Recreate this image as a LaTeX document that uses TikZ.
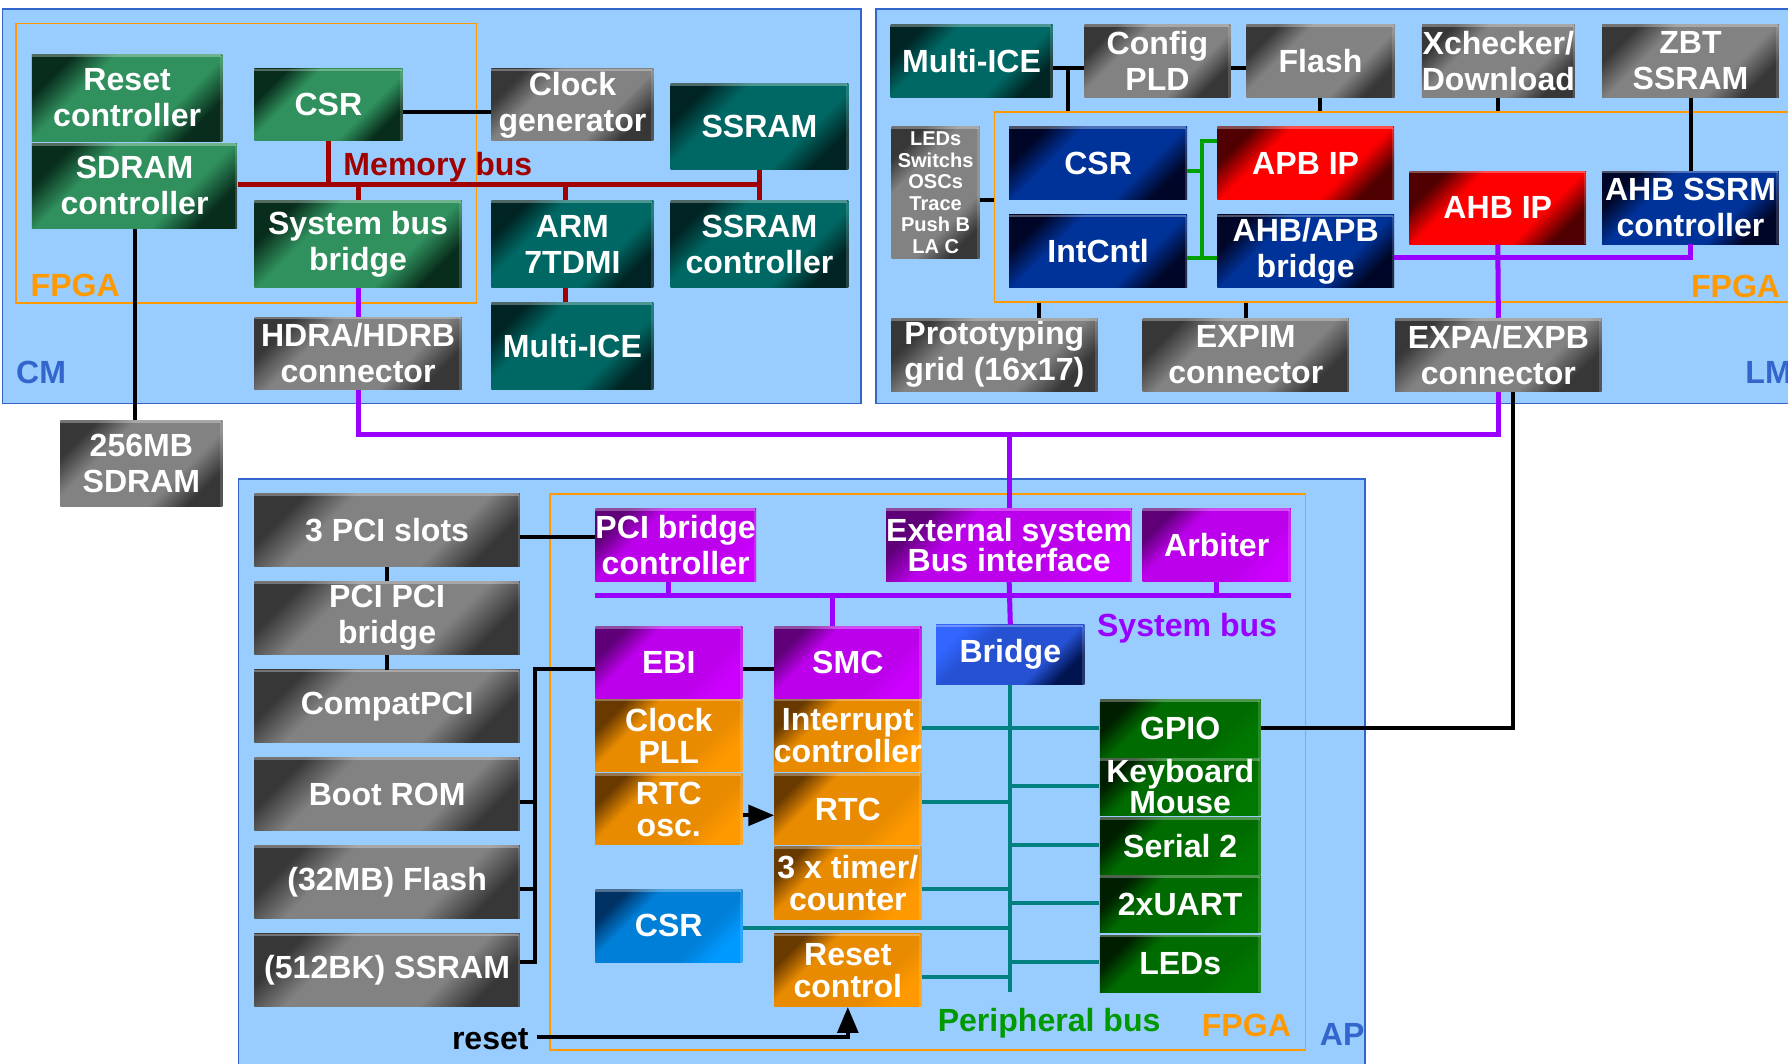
\documentclass[tikz,border=0pt]{standalone}
\usepackage{fontspec}
\setmainfont{Liberation Sans}
\usetikzlibrary{arrows}

\definecolor{bgblue}{RGB}{153,204,255}
\definecolor{frameblue}{RGB}{51,102,204}
\definecolor{fpgaorange}{RGB}{255,153,0}
\definecolor{membus}{RGB}{160,0,0}
\definecolor{sysbus}{RGB}{153,0,255}
\definecolor{perteal}{RGB}{0,128,128}
\definecolor{perlabel}{RGB}{0,153,0}
\definecolor{lmgreen}{RGB}{0,160,0}
\definecolor{grayD}{RGB}{55,55,55}
\definecolor{grayM}{RGB}{130,130,130}
\definecolor{cmgreenD}{RGB}{8,45,28}
\definecolor{cmgreenM}{RGB}{48,145,94}
\definecolor{tealD}{RGB}{0,36,36}
\definecolor{tealM}{RGB}{0,104,100}
\definecolor{navyD}{RGB}{0,6,40}
\definecolor{navyM}{RGB}{0,51,153}
\definecolor{redD}{RGB}{80,0,0}
\definecolor{redM}{RGB}{255,0,0}
\definecolor{purD}{RGB}{95,0,120}
\definecolor{purM}{RGB}{204,0,255}
\definecolor{orD}{RGB}{105,58,0}
\definecolor{orM}{RGB}{255,153,0}
\definecolor{abD}{RGB}{0,50,100}
\definecolor{abM}{RGB}{0,153,255}
\definecolor{brL}{RGB}{51,102,255}
\definecolor{brD}{RGB}{0,20,80}
\definecolor{agD}{RGB}{0,30,0}
\definecolor{agM}{RGB}{0,120,0}

\pgfdeclareverticalshading[bxtop,bxmid,bxbot]{boxshade}{100bp}{color(0bp)=(bxbot); color(25bp)=(bxbot); color(36bp)=(bxmid); color(64bp)=(bxmid); color(75bp)=(bxtop); color(100bp)=(bxtop)}

\begin{document}
\begin{tikzpicture}[x=0.02cm, y=-0.02cm,
  blk/.style={inner sep=0pt, align=center, text=white, font=\fontsize{16}{18}\selectfont\bfseries,
    append after command={([yshift=-0.7pt]\tikzlastnode.north west) edge[line width=1.4pt, white, opacity=0.3] ([xshift=-0.7pt, yshift=-0.7pt]\tikzlastnode.north east)
      ([xshift=-0.7pt, yshift=-0.7pt]\tikzlastnode.north east) edge[line width=1.4pt, white, opacity=0.15] ([xshift=-0.7pt]\tikzlastnode.south east)}},
  shbox/.style n args={3}{blk, /utils/exec={\colorlet{bxtop}{#1}\colorlet{bxmid}{#2}\colorlet{bxbot}{#3}}, shade, shading=boxshade, shading angle=45},
  frame/.style={draw=frameblue, fill=bgblue, line width=0.8pt, inner sep=0pt},
  fpga/.style={draw=fpgaorange, line width=0.8pt, inner sep=0pt},
  graybox/.style={shbox={grayD}{grayM}{grayD}},
  greenbox/.style={shbox={cmgreenD}{cmgreenM}{cmgreenD}},
  tealbox/.style={shbox={tealD}{tealM}{tealD}},
  navybox/.style={shbox={navyD}{navyM}{navyD}},
  redbox/.style={shbox={redD}{redM}{redD}},
  purbox/.style={shbox={purD}{purM!85!purD}{purM}},
  orbox/.style={shbox={orD}{orM!85!orD}{orM}},
  abbox/.style={shbox={abD}{abM!75!abD}{abM}},
  brbox/.style={shbox={brL}{brL!75!brD}{brD}},
  agbox/.style={shbox={agD}{agM!85!agD}{agM}},
  conn/.style={line width=2pt},
  mbus/.style={draw=membus, line width=2.5pt},
  sbus/.style={draw=sysbus, line width=2.5pt},
  pbus/.style={draw=perteal, line width=2pt},
  gbus/.style={draw=lmgreen, line width=2pt},
  arr/.style={line width=2pt, -triangle 45},
  lbl/.style={font=\fontsize{16}{18}\selectfont\bfseries, inner sep=0pt}]

\useasboundingbox[fill=white] (0,0) rectangle (1568,933);

% frames
\node[frame, minimum width=15.06cm, minimum height=6.92cm] (cm) at (378.5,181) {};
\node[frame, minimum width=17.04cm, minimum height=6.92cm] (lm) at (1194,181) {};
\node[frame, minimum width=19.76cm, minimum height=11.2cm] (ap) at (703,700) {};
\node[fpga, minimum width=8.08cm, minimum height=4.9cm] (cmf) at (216,143) {};
\node[fpga, minimum width=14.96cm, minimum height=3.34cm] (lmf) at (1246,181.5) {};
\node[fpga, minimum width=13.25cm, minimum height=9.76cm] (apf) at (813.75,677) {};

% CM
\node[greenbox, minimum width=3.34cm, minimum height=1.52cm] (rst) at (111.5,86) {Reset\\controller};
\node[greenbox, minimum width=3.6cm, minimum height=1.5cm] (sdc) at (118,163) {SDRAM\\controller};
\node[greenbox, minimum width=2.6cm, minimum height=1.26cm] (csr) at (288,92) {CSR};
\node[graybox, minimum width=2.84cm, minimum height=1.26cm] (clk) at (502,92) {Clock\\generator};
\node[tealbox, minimum width=3.12cm, minimum height=1.52cm] (ssr) at (666,111) {SSRAM};
\node[greenbox, minimum width=3.64cm, minimum height=1.52cm] (sbb) at (314,214) {System bus\\bridge};
\node[tealbox, minimum width=2.84cm, minimum height=1.52cm] (arm) at (502,214) {ARM\\7TDMI};
\node[tealbox, minimum width=3.12cm, minimum height=1.52cm] (ssc) at (666,214) {SSRAM\\controller};
\node[graybox, minimum width=3.64cm, minimum height=1.28cm] (hdr) at (314,310) {HDRA/HDRB\\connector};
\node[tealbox, minimum width=2.84cm, minimum height=1.54cm] (ice) at (502,303.5) {Multi-ICE};
\node[graybox, minimum width=2.84cm, minimum height=1.5cm] (sdr) at (124,406.5) {256MB\\SDRAM};

% LM
\node[tealbox, minimum width=2.84cm, minimum height=1.28cm] (lice) at (852,53.5) {Multi-ICE};
\node[graybox, minimum width=2.56cm, minimum height=1.28cm] (cpld) at (1015,53.5) {Config\\PLD};
\node[graybox, minimum width=2.6cm, minimum height=1.28cm] (lfl) at (1158,53.5) {Flash};
\node[graybox, minimum width=2.6cm, minimum height=1.28cm] (xchk) at (1314,53.5) {Xchecker/\\Download};
\node[graybox, minimum width=3.1cm, minimum height=1.28cm] (zbt) at (1482.5,53.5) {ZBT\\SSRAM};
\node[graybox, minimum width=1.54cm, minimum height=2.32cm, font=\fontsize{10}{10.8}\selectfont\bfseries] (leds) at (820.5,169) {LEDs\\Switchs\\OSCs\\Trace\\Push B\\LA C};
\node[navybox, minimum width=3.12cm, minimum height=1.28cm] (lcsr) at (963,143) {CSR};
\node[navybox, minimum width=3.12cm, minimum height=1.28cm] (lint) at (963,220.5) {IntCntl};
\node[redbox, minimum width=3.1cm, minimum height=1.28cm] (apb) at (1145,143) {APB IP};
\node[navybox, minimum width=3.1cm, minimum height=1.28cm] (abr) at (1145,220.5) {AHB/APB\\bridge};
\node[redbox, minimum width=3.1cm, minimum height=1.28cm] (ahb) at (1313.5,182) {AHB IP};
\node[navybox, minimum width=3.1cm, minimum height=1.28cm] (ahbs) at (1482.5,182) {AHB SSRM\\controller};
\node[graybox, minimum width=3.62cm, minimum height=1.28cm] (proto) at (872,311) {Prototyping\\grid (16x17)};
\node[graybox, minimum width=3.62cm, minimum height=1.28cm] (expim) at (1092.5,311) {EXPIM\\connector};
\node[graybox, minimum width=3.62cm, minimum height=1.28cm] (expa) at (1314,311) {EXPA/EXPB\\connector};

% AP
\node[graybox, minimum width=4.66cm, minimum height=1.28cm] (pcis) at (339.5,465) {3 PCI slots};
\node[graybox, minimum width=4.66cm, minimum height=1.28cm] (ppb) at (339.5,542) {PCI PCI\\bridge};
\node[graybox, minimum width=4.66cm, minimum height=1.28cm] (cpci) at (339.5,619.5) {CompatPCI};
\node[graybox, minimum width=4.66cm, minimum height=1.28cm] (brom) at (339.5,696.5) {Boot ROM};
\node[graybox, minimum width=4.66cm, minimum height=1.28cm] (afl) at (339.5,773.5) {(32MB) Flash};
\node[graybox, minimum width=4.66cm, minimum height=1.28cm] (assr) at (339.5,851) {(512BK) SSRAM};
\node[purbox, minimum width=2.82cm, minimum height=1.28cm] (pbc) at (592.5,478) {PCI bridge\\controller};
\node[purbox, minimum width=4.16cm, minimum height=1.28cm, font=\fontsize{16}{15}\selectfont\bfseries] (esb) at (885,478) {External system\\Bus interface};
\node[purbox, minimum width=2.6cm, minimum height=1.28cm] (arb) at (1067,478) {Arbiter};
\node[purbox, minimum width=2.58cm, minimum height=1.26cm] (ebi) at (586.5,581) {EBI};
\node[purbox, minimum width=2.58cm, minimum height=1.26cm] (smc) at (743.5,581) {SMC};
\node[orbox, minimum width=2.58cm, minimum height=1.28cm, font=\fontsize{16}{16}\selectfont\bfseries] (cpll) at (586.5,645) {Clock\\PLL};
\node[orbox, minimum width=2.58cm, minimum height=1.26cm, font=\fontsize{16}{16}\selectfont\bfseries] (rosc) at (586.5,709.5) {RTC\\osc.};
\node[orbox, minimum width=2.58cm, minimum height=1.28cm, font=\fontsize{16}{16}\selectfont\bfseries] (intc) at (743.5,645) {Interrupt\\controller};
\node[orbox, minimum width=2.58cm, minimum height=1.26cm] (rtc) at (743.5,709.5) {RTC};
\node[orbox, minimum width=2.58cm, minimum height=1.28cm, font=\fontsize{16}{16}\selectfont\bfseries] (tmr) at (743.5,774) {3 x timer/\\counter};
\node[orbox, minimum width=2.58cm, minimum height=1.28cm, font=\fontsize{16}{16}\selectfont\bfseries] (rstc) at (743.5,851) {Reset\\control};
\node[abbox, minimum width=2.58cm, minimum height=1.28cm] (acsr) at (586.5,812) {CSR};
\node[brbox, minimum width=2.6cm, minimum height=1.04cm] (brg) at (886,574) {Bridge};
\node[agbox, minimum width=2.82cm, minimum height=1.02cm] (gpio) at (1035,639) {GPIO};
\node[agbox, minimum width=2.82cm, minimum height=1cm, font=\fontsize{16}{13}\selectfont\bfseries] (kbm) at (1035,690) {Keyboard\\Mouse};
\node[agbox, minimum width=2.82cm, minimum height=1cm] (ser) at (1035,742) {Serial 2};
\node[agbox, minimum width=2.82cm, minimum height=1cm] (uart) at (1035,793) {2xUART};
\node[agbox, minimum width=2.82cm, minimum height=1cm] (aled) at (1035,845) {LEDs};

% labels
\node[lbl, text=membus] (mbl) at (384,147) {Memory bus};
\node[lbl, text=fpgaorange] (cmfl) at (66,250) {FPGA};
\node[lbl, text=frameblue] (cml) at (36,327) {CM};
\node[lbl, text=fpgaorange] (lmfl) at (1522,251) {FPGA};
\node[lbl, text=frameblue] (lml) at (1551,327) {LM};
\node[lbl, text=fpgaorange] (apfl) at (1093,899) {FPGA};
\node[lbl, text=frameblue] (apl) at (1177,907) {AP};
\node[lbl, text=sysbus] (sbl) at (1041,551) {System bus};
\node[lbl, text=perlabel] (pbl) at (920,897) {Peripheral bus};
\node[lbl] (rsttxt) at (430,911) {reset};

% CM connections
\draw[conn] (csr.east |- 0,98) -- (clk.west |- 0,98);
\draw[mbus] (sdc.east |- 0,162) -- (ssr.south |- 0,162);
\draw[mbus] (csr.south) -- (csr.south |- 0,162);
\draw[mbus] (sbb.north) -- (sbb.north |- 0,162);
\draw[mbus] (arm.north -| 496,0) -- (496,162);
\draw[mbus] (ssr.south) -- (ssc.north);
\draw[mbus] (arm.south -| 496,0) -- (ice.north -| 496,0);
\draw[conn] (sdc.south) -- (sdc.south |- sdr.north);
\draw[sbus] (sbb.south) -- (hdr.north);
\draw[sbus] (hdr.south) -- (hdr.south |- 0,381) -- (expa.south |- 0,381) -- (expa.south);
\draw[sbus] (esb.north) -- (esb.north |- 0,381);

% LM connections
\coordinate (j1) at (937,60);
\draw[conn] (lice.east |- j1) -- (cpld.west |- j1);
\draw[conn] (j1) -- (lmf.north -| j1);
\draw[conn] (cpld.east |- j1) -- (lfl.west |- j1);
\draw[conn] (lfl.south) -- (lfl.south |- lmf.north);
\draw[conn] (xchk.south) -- (xchk.south |- lmf.north);
\draw[conn] (zbt.south) -- (ahbs.north);
\draw[conn] (leds.east |- 0,175) -- (lmf.west |- 0,175);
\coordinate (g1) at (1054,124);
\coordinate (g2) at (1054,226);
\draw[gbus] (lcsr.east |- 0,150) -- (g1 |- 0,150);
\draw[gbus] (apb.west |- g1) -- (g1) -- (g2);
\draw[gbus] (lint.east |- g2) -- (abr.west |- g2);
\draw[sbus] (abr.east |- g2) -- (ahbs.south |- g2) -- (ahbs.south);
\draw[sbus] (ahb.south) -- (expa.north);
\draw[conn] (proto.north -| 911,0) -- (lmf.south -| 911,0);
\draw[conn] (expim.north) -- (expim.north |- lmf.south);
\coordinate (g3) at (1327,638);
\draw[conn] (expa.south -| g3) -- (g3) -- (gpio.east |- g3);

% AP connections
\draw[conn] (pcis.east |- 0,471) -- (pbc.west |- 0,471);
\draw[conn] (pcis.south) -- (ppb.north);
\draw[conn] (ppb.south) -- (cpci.north);
\draw[sbus] (pbc.west |- 0,522) -- (arb.east |- 0,522);
\draw[sbus] (pbc.south -| 586,0) -- (586,522);
\draw[sbus] (esb.south) -- (brg.north);
\draw[sbus] (arb.south) -- (arb.south |- 0,522);
\draw[sbus] (smc.north -| 730,0) -- (730,522);
\coordinate (t1) at (469,587);
\coordinate (t2) at (469,844);
\draw[conn] (ebi.west |- t1) -- (t1) -- (t2) -- (assr.east |- t2);
\draw[conn] (brom.east |- 0,703) -- (t1 |- 0,703);
\draw[conn] (afl.east |- 0,780) -- (t1 |- 0,780);
\draw[conn] (ebi.east |- t1) -- (smc.west |- t1);
\draw[arr] (rosc.east |- 0,715) -- (rtc.west |- 0,715);
\coordinate (r1) at (471,909);
\draw[arr] (r1) -- (rstc.south |- r1) -- (rstc.south);
\coordinate (pb) at (886,870);
\draw[pbus] (brg.south) -- (pb);
\foreach \n/\y in {intc/638, rtc/703, tmr/780, acsr/814, rstc/857}
  \draw[pbus] (\n.east |- 0,\y) -- (pb |- 0,\y);
\foreach \n/\y in {gpio/638, kbm/689, ser/741, uart/792, aled/844}
  \draw[pbus] (pb |- 0,\y) -- (\n.west |- 0,\y);
\end{tikzpicture}
\end{document}
